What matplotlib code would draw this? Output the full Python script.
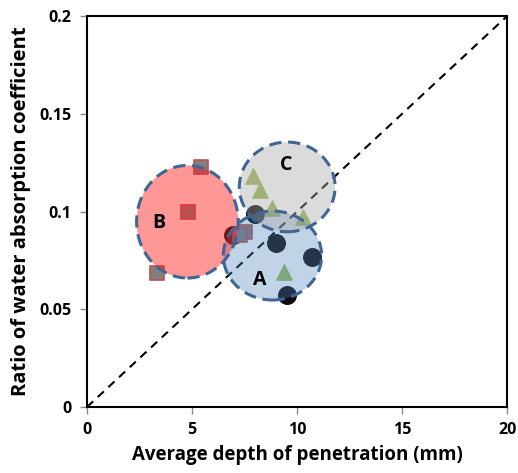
import matplotlib
matplotlib.use("Agg")
import matplotlib.pyplot as plt
from matplotlib.patches import Ellipse

plt.rcParams['font.family'] = ['Open Sans', 'DejaVu Sans']

# Data
circle_x = [6.94, 8.0, 8.98, 10.7, 9.5]
circle_y = [0.088, 0.099, 0.084, 0.0766, 0.0573]
tri_x = [7.92, 8.24, 8.8, 10.3, 9.38]
tri_y = [0.118, 0.111, 0.1016, 0.0973, 0.069]
sq_x = [5.41, 4.82, 3.32, 7.52, 7.29]
sq_y = [0.123, 0.0999, 0.0687, 0.0897, 0.088]

groups = ['A', 'B', 'C']
group_cx = [8.83, 4.78, 9.53]
group_cy = [0.0775, 0.0948, 0.1126]
group_w = [4.68, 4.84, 4.56]
group_h = [0.0455, 0.0576, 0.0459]
group_fill = ['#4f81bd', '#ff1a1a', '#a6a6a6']
group_alpha = [0.35, 0.45, 0.4]
label_x = [8.24, 3.4, 9.46]
label_y = [0.065, 0.0943, 0.124]

fig = plt.figure(figsize=(5.18, 4.73), dpi=100)
ax = fig.add_axes([0.168, 0.1395, 0.811, 0.8265])

ax.plot([0, 20], [0, 0.2], linestyle=(0, (4, 3)), color='black', lw=1.5, zorder=1)

ax.scatter(circle_x, circle_y, s=160, marker='o', color='#0d0d0d', zorder=2)
ax.scatter(tri_x, tri_y, s=120, marker='^', color='#9bbb59', zorder=2)
ax.scatter(sq_x, sq_y, s=110, marker='s', facecolor='#7f7f7f', edgecolor='#c0504d', lw=1.2, zorder=2)

for cx, cy, w, h, fc, al in zip(group_cx, group_cy, group_w, group_h, group_fill, group_alpha):
    e = Ellipse((cx, cy), w, h, facecolor=fc, alpha=al, edgecolor='none', zorder=3)
    ax.add_patch(e)
    e2 = Ellipse((cx, cy), w, h, facecolor='none', edgecolor='#3f6595',
                 lw=2.2, linestyle=(0, (4, 2.2)), zorder=4)
    ax.add_patch(e2)

for g, lx, ly in zip(groups, label_x, label_y):
    ax.text(lx, ly, g, fontsize=14, fontweight='bold', ha='center', va='center', zorder=5)

ax.set_xlim(0, 20)
ax.set_ylim(0, 0.2)
ax.set_xticks([0, 5, 10, 15, 20])
ax.set_xticklabels(['0', '5', '10', '15', '20'])
ax.set_yticks([0, 0.05, 0.1, 0.15, 0.2])
ax.set_yticklabels(['0', '0.05', '0.1', '0.15', '0.2'])
for lab in ax.get_xticklabels() + ax.get_yticklabels():
    lab.set_fontweight('bold')
    lab.set_fontsize(11.5)
ax.tick_params(direction='out', length=5, width=1, color='#888888', pad=6)
for s in ax.spines.values():
    s.set_linewidth(1.5)
    s.set_color('black')

ax.set_xlabel('Average depth of penetration (mm)', fontsize=13.5, fontweight='bold', labelpad=5)
ax.set_ylabel('Ratio of water absorption coefficient', fontsize=14.5, fontweight='bold', labelpad=6)

fig.savefig('out.png', dpi=100)
